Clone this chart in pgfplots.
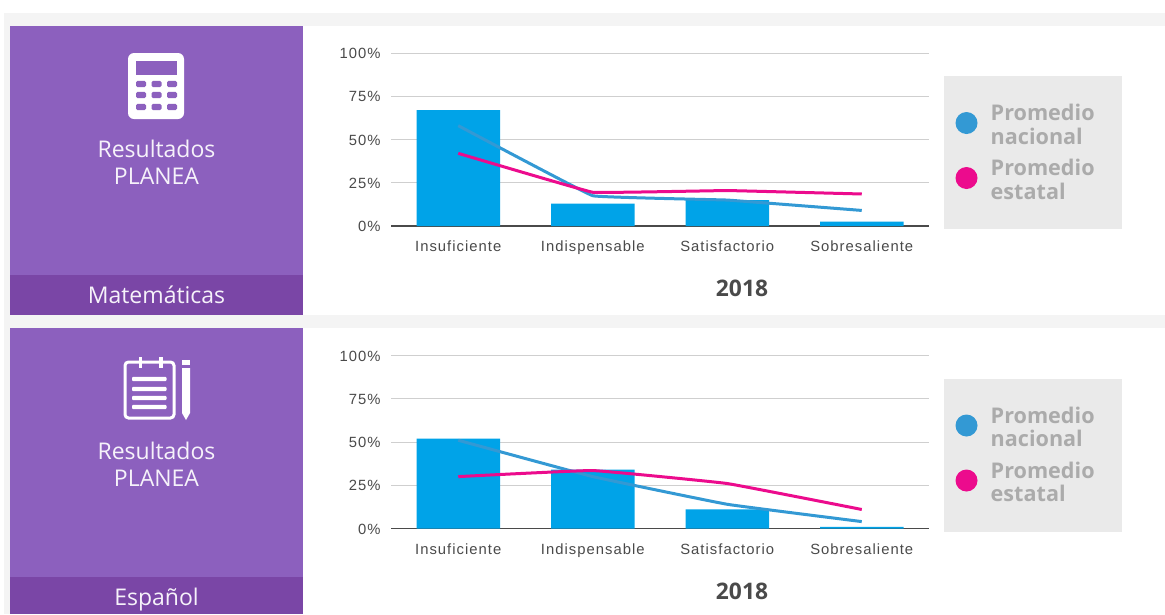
\documentclass[border=0pt]{standalone}
\usepackage{fontspec}
\usepackage{pgfplots}
\pgfplotsset{compat=1.18}
\setmainfont{Open Sans}
\newfontfamily\tickfont[LetterSpace=7]{Liberation Sans}
\definecolor{panel}{HTML}{8C60BE}
\definecolor{band}{HTML}{7A46A6}
\definecolor{strip}{HTML}{F4F4F4}
\definecolor{barblue}{HTML}{00A3E8}
\definecolor{lineblue}{HTML}{3399D4}
\definecolor{linepink}{HTML}{EC0B8D}
\definecolor{legbg}{HTML}{EAEAEA}
\definecolor{legtxt}{HTML}{ABABAB}
\definecolor{gridc}{HTML}{CFCFCF}
\definecolor{tickc}{HTML}{4A4A4A}

\pgfplotsset{planea/.style={
    scale only axis, width=538pt, height=173pt,
    anchor=south west, xmin=-0.5, xmax=3.5, ymin=0, ymax=100,
    axis x line=bottom, axis y line=left,
    y axis line style={draw=none}, x axis line style={draw=tickc, line width=1.2pt, -},
    xtick={0,1,2,3},
    xticklabels={Insuficiente, Indispensable, Satisfactorio, Sobresaliente},
    ytick={0,25,50,75,100},
    yticklabel={\pgfmathprintnumber{\tick}\%},
    major tick length=0pt,
    ymajorgrids, grid style={gridc, line width=1pt},
    tick label style={text=tickc},
    ticklabel style={font=\tickfont\fontsize{14.8}{16}\selectfont},
    xticklabel style={yshift=-11.5pt, /pgf/number format/assume math mode=true},
    yticklabel style={xshift=-7pt, yshift=-0.5pt, /pgf/number format/assume math mode=true},
    clip=false,
  },
  barplot/.style={ybar, bar width=83.5pt, bar shift=0pt, fill=barblue, draw=none},
}

\begin{document}
\begin{tikzpicture}[x=1pt,y=-1pt]
% page and light strips
\fill[white] (0,0) rectangle (1165,614);
\fill[strip] (4,13) rectangle (1165,26);
\fill[strip] (4,13) rectangle (10,614);
\fill[strip] (303,315) rectangle (1165,328);
\fill[strip] (10,315) rectangle (303,328);

% left panels
\fill[panel] (10,26) rectangle (303,275);
\fill[band] (10,275) rectangle (303,315);
\fill[panel] (10,328) rectangle (303,577);
\fill[band] (10,577) rectangle (303,614);

\begin{scope}[every node/.style={text=white!92!panel, font=\fontsize{23}{27}\selectfont, align=center}]
\node at (156.5,162) {Resultados\\PLANEA};
\node at (156.5,295) {Matemáticas};
\node at (156.5,464.5) {Resultados\\PLANEA};
\node at (156.5,600) {Español};
\end{scope}

% calculator icon
\fill[white, rounded corners=6pt] (128,53) rectangle (184,119);
\fill[panel] (135.5,61) rectangle (177,75);
\foreach \yy in {84,95,107} \foreach \xx in {136,151.5,167}
  \fill[panel, rounded corners=1.5pt] (\xx,\yy-3.2) rectangle ++(10,6.4);

% notepad icon
\draw[white, line width=3pt, rounded corners=3.5pt] (125,362) rectangle (174,418);
\fill[white] (138.5,357) rectangle (142,368);
\fill[white] (159,357) rectangle (162.5,368);
\foreach \yy in {379,389,398,407}
  \fill[white, rounded corners=1pt] (132,\yy-2.2) rectangle (166.5,\yy+2.2);
\fill[white] (182,360) rectangle (190,365);
\fill[white] (182,368) -- (190,368) -- (190,413) -- (186,420) -- (182,413) -- cycle;

% legends
\foreach \off in {0,302.5}{
  \fill[legbg] (944,76+\off) rectangle (1122,229+\off);
  \fill[lineblue] (966.5,123+\off) circle[radius=11];
  \fill[linepink] (966.5,178+\off) circle[radius=11];
  \node[anchor=west, text=legtxt, align=left, inner sep=0pt, font=\bfseries\fontsize{21.6}{23.5}\selectfont] at (990.5,124.5+\off) {Promedio\\nacional};
  \node[anchor=west, text=legtxt, align=left, inner sep=0pt, font=\bfseries\fontsize{21.6}{23.5}\selectfont] at (990.5,179.5+\off) {Promedio\\estatal};
}

% year captions
\node[text=tickc, font=\bfseries\fontsize{22.8}{25}\selectfont] at (742,288.5) {2018};
\node[text=tickc, font=\bfseries\fontsize{22.8}{25}\selectfont] at (742,591) {2018};

% Matematicas
\begin{axis}[planea, at={(391pt,-226pt)}]
\addplot[barplot] coordinates {(0,67) (1,13) (2,15) (3,2.5)};
\addplot[lineblue, line width=3pt, smooth, tension=0.08] coordinates {(0,58) (1,17.5) (2,15) (3,9)};
\addplot[linepink, line width=3pt, smooth, tension=0.08] coordinates {(0,42) (1,19.5) (2,20.5) (3,18.5)};
\end{axis}

% Espanol
\begin{axis}[planea, at={(391pt,-528.5pt)}]
\addplot[barplot] coordinates {(0,52) (1,34) (2,11) (3,1)};
\addplot[lineblue, line width=3pt, smooth, tension=0.15] coordinates {(0,51) (1,30) (2,14) (3,4)};
\addplot[linepink, line width=3pt, smooth, tension=0.15] coordinates {(0,30) (1,33.5) (2,26) (3,11)};
\end{axis}

% fix the page size
\path[use as bounding box] (0,0) rectangle (1165,614);
\end{tikzpicture}
\end{document}
